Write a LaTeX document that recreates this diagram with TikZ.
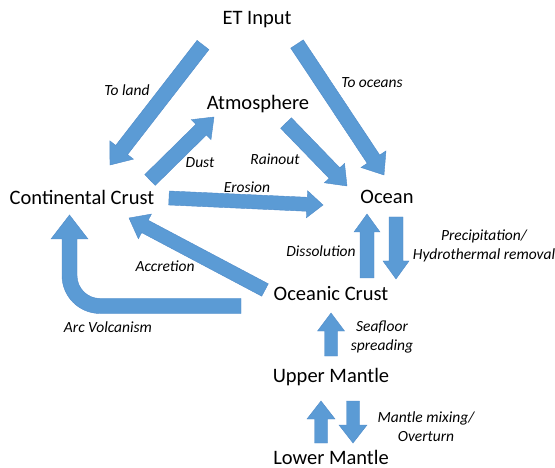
\documentclass[tikz,border=0pt]{standalone}
\usepackage{fontspec}
\setmainfont{Carlito}
\usetikzlibrary{calc}
\definecolor{arrowblue}{HTML}{5B9BD5}
\definecolor{arrowedge}{HTML}{4F8BC9}
\tikzset{
  box/.style={inner sep=0pt, font=\fontsize{20.5}{24}\selectfont},
  lbl/.style={inner sep=0pt, font=\fontsize{15.5}{19}\selectfont\itshape, align=center},
  blockarrow/.style={fill=arrowblue, draw=arrowedge, line width=0.4pt, line join=miter}
}
\newcommand\barrow[5]{% tail, tip, shaft half width, head half width, head length
  \coordinate (hb) at ($(#2)!#5!(#1)$);
  \path[blockarrow] ($(#1)!#3!90:(#2)$) -- ($(hb)!#3!90:(#2)$) -- ($(hb)!#4!90:(#2)$)
    -- (#2) -- ($(hb)!#4!-90:(#2)$) -- ($(hb)!#3!-90:(#2)$) -- ($(#1)!#3!-90:(#2)$) -- cycle;
}
\begin{document}
\begin{tikzpicture}[x=1pt,y=-1pt]
\useasboundingbox (0,0) rectangle (555,468);
% nodes
\node[box] (et) at (257,20) {ET Input};
\node[box] (atm) at (258,104) {Atmosphere};
\node[box] (cc) at (82,197) {Continental Crust};
\node[box] (ocean) at (387,197) {Ocean};
\node[box] (oc) at (331,294) {Oceanic Crust};
\node[box] (um) at (331,377) {Upper Mantle};
\node[box] (lm) at (331,457) {Lower Mantle};
% arrow end points
\coordinate (landT) at (203,45);  \coordinate (landH) at (110,165);
\coordinate (oceT) at (297,44);   \coordinate (oceH) at (384,175);
\coordinate (dustT) at (150,180); \coordinate (dustH) at (214,117);
\coordinate (rainT) at (286,123); \coordinate (rainH) at (347,186);
\coordinate (eroT) at (169,198);  \coordinate (eroH) at (323,205);
\coordinate (disT) at (367,278);  \coordinate (disH) at (367,214);
\coordinate (preT) at (396,217);  \coordinate (preH) at (396,279);
\coordinate (accT) at (265,290);  \coordinate (accH) at (129,218);
\coordinate (seaT) at (331,356);  \coordinate (seaH) at (331,313);
\coordinate (mupT) at (321,443);  \coordinate (mupH) at (321,401);
\coordinate (mdnT) at (353,401);  \coordinate (mdnH) at (353,443);
% arrows
\barrow{landT}{landH}{7.5pt}{15pt}{19pt}
\barrow{oceT}{oceH}{7.5pt}{15pt}{19pt}
\barrow{dustT}{dustH}{7.5pt}{14pt}{18pt}
\barrow{rainT}{rainH}{7.5pt}{14pt}{18pt}
\barrow{eroT}{eroH}{7pt}{13.5pt}{16pt}
\barrow{disT}{disH}{7pt}{13pt}{18pt}
\barrow{preT}{preH}{7pt}{13pt}{18pt}
\barrow{accT}{accH}{7pt}{14pt}{18pt}
\barrow{seaT}{seaH}{6.5pt}{13.5pt}{18pt}
\barrow{mupT}{mupH}{6.5pt}{14pt}{18pt}
\barrow{mdnT}{mdnH}{6.5pt}{14pt}{18pt}
% arc volcanism bent arrow
\path[blockarrow] (241,298.5) -- (100,298.5) .. controls (87.3,298.5) and (77,288.2) .. (77,275.5)
  -- (77,239) -- (88,239) -- (69.5,215) -- (51,239) -- (62,239) -- (62,275.5)
  .. controls (62,296.5) and (79,313.5) .. (100,313.5) -- (241,313.5) -- cycle;
% labels
\node[lbl] (l1) at (127,90) {To land};
\node[lbl] (l2) at (372,83) {To oceans};
\node[lbl] (l3) at (200,163) {Dust};
\node[lbl] (l4) at (275,159) {Rainout};
\node[lbl] (l5) at (247,187) {Erosion};
\node[lbl] (l6) at (484,246) {Precipitation/\\Hydrothermal removal};
\node[lbl] (l7) at (321,251) {Dissolution};
\node[lbl] (l8) at (165,266) {Accretion};
\node[lbl] (l9) at (108,327) {Arc Volcanism};
\node[lbl] (l10) at (382,337) {Seafloor\\spreading};
\node[lbl] (l11) at (426,427) {Mantle mixing/\\Overturn};
\end{tikzpicture}
\end{document}
